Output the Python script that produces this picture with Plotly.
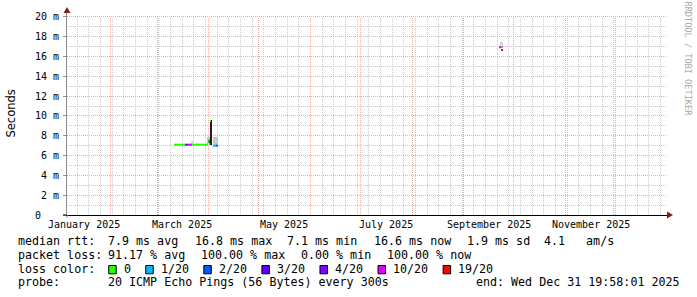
import plotly.graph_objects as go
import pandas as pd
import math

# ---------------- data ----------------
GRAPH_START = "2025-01-05 19:58:01"
GRAPH_END = "2025-12-31 19:58:01"

# median RTT segments (ms) with packet loss (pings lost out of 20)
seg_start = ["2025-03-11 00:00", "2025-03-17 14:00", "2025-03-19 10:00", "2025-03-21 19:00",
             "2025-03-31 10:00", "2025-04-01 02:00", "2025-04-01 14:00", "2025-04-03 06:00",
             "2025-04-05 05:00", "2025-09-22 00:45", "2025-09-23 05:30"]
seg_end = ["2025-03-17 14:00", "2025-03-19 10:00", "2025-03-21 19:00", "2025-03-31 10:00",
           "2025-04-01 02:00", "2025-04-01 14:00", "2025-04-02 05:00", "2025-04-05 05:00",
           "2025-04-06 10:00", "2025-09-23 05:30", "2025-09-24 10:00"]
seg_median_ms = [7.1, 7.1, 7.1, 7.1, 7.4, 7.6, 9.5, 7.0, 7.0, 16.95, 16.65]
seg_loss = [0, 4, 10, 0, 0, 0, 0, 1, 2, 10, 19]

# smoke (ping spread) bands
smoke_start = ["2025-03-21 05:00", "2025-03-24 05:00", "2025-03-31 10:00", "2025-03-31 20:00",
               "2025-04-01 14:00", "2025-04-03 06:00", "2025-09-22 14:00", "2025-09-22 14:00"]
smoke_end = ["2025-03-22 14:00", "2025-03-25 10:00", "2025-04-01 14:00", "2025-04-01 14:00",
             "2025-04-03 00:00", "2025-04-06 10:00", "2025-09-24 10:00", "2025-09-24 10:00"]
smoke_lo_ms = [7.1, 7.1, 7.1, 7.3, 7.1, 7.0, 16.9, 16.9]
smoke_hi_ms = [7.45, 7.3, 7.9, 7.6, 9.6, 7.9, 17.5, 17.1]
smoke_grey = ["#d8d8d8", "#e2e2e2", "#c4c4c4", "#3a3a3a", "#1e1e1e", "#cacaca", "#d6d6d6", "#a4a4a4"]

loss_levels = [0, 1, 2, 3, 4, 10, 19]
loss_labels = ["0", "1/20", "2/20", "3/20", "4/20", "10/20", "19/20"]
loss_colors = ["#26ff00", "#00b8ff", "#0059ff", "#5e00ff", "#7e00ff", "#dd00ff", "#ff0000"]

y_tick_ms = [0, 2, 4, 6, 8, 10, 12, 14, 16, 18, 20]
y_tick_text = ["0   ", "2 m", "4 m", "6 m", "8 m", "10 m", "12 m", "14 m", "16 m", "18 m", "20 m"]

x_label_dates = ["2025-01-16", "2025-03-16", "2025-05-16", "2025-07-16", "2025-09-16", "2025-11-16"]
x_label_text = ["January 2025", "March 2025", "May 2025", "July 2025", "September 2025", "November 2025"]

rtt_items = ["7.9 ms avg", "16.8 ms max", "7.1 ms min", "16.6 ms now", "1.9 ms sd", "4.1   am/s"]
pl_items = ["91.17 % avg", "100.00 % max", "0.00 % min", "100.00 % now"]
probe_text = "20 ICMP Echo Pings (56 Bytes) every 300s"
end_text = "end: Wed Dec 31 19:58:01 2025"

# ---------------- layout geometry ----------------
W, H = 697, 297
PL, PR, PT, PB = 67, 667, 12, 215
Y_MAX = 0.0205


def px(x):
    return (x - PL) / (PR - PL)


def py(y):
    return (PB - y) / (PB - PT)


def nb(s):
    return s.replace(" ", "\u00a0")


T0 = pd.Timestamp(GRAPH_START)
T1 = pd.Timestamp(GRAPH_END)


def snap_x(t):
    """pixel-centre (paper coords) of the column a time falls in"""
    xpix = PL + (pd.Timestamp(t) - T0) / (T1 - T0) * (PR - PL)
    return px(math.floor(xpix) + 0.5)


def snap_y(v):
    ypix = PB - v / Y_MAX * (PB - PT)
    return py(math.floor(ypix) + 0.5)


MONO = "DejaVu Sans Mono"
fig = go.Figure()

# smoke
for s, e, lo, hi, c in zip(smoke_start, smoke_end, smoke_lo_ms, smoke_hi_ms, smoke_grey):
    w = (pd.Timestamp(e) - pd.Timestamp(s)).total_seconds() * 1000
    fig.add_trace(go.Bar(x=[s], y=[(hi - lo) / 1000], base=[lo / 1000], width=[w], offset=0,
                         marker=dict(color=c, line=dict(width=0)), showlegend=False,
                         hoverinfo="skip"))

# median lines coloured by loss
for lvl, col in zip(loss_levels, loss_colors):
    xs, ys = [], []
    for s, e, m, l in zip(seg_start, seg_end, seg_median_ms, seg_loss):
        if l == lvl:
            xs += [s, e, None]
            ys += [m / 1000, m / 1000, None]
    if xs:
        fig.add_trace(go.Scatter(x=xs, y=ys, mode="lines", line=dict(color=col, width=2),
                                 showlegend=False, hoverinfo="skip"))

month_starts = pd.date_range("2025-02-01", "2025-12-01", freq="MS")
week_starts = pd.date_range("2025-01-12", "2025-12-28", freq="7D")

MAJ = "#e8aeae"
MIN = "#cbcbcb"
DASH = "1px,1px"

fig.update_layout(
    width=W, height=H,
    margin=dict(l=PL, r=W - PR, t=PT, b=H - PB, pad=0),
    paper_bgcolor="white", plot_bgcolor="white",
    barmode="overlay", bargap=0,
    showlegend=False,
    font=dict(family=MONO, size=10, color="black"),
    xaxis=dict(type="date", range=[GRAPH_START, GRAPH_END], showticklabels=False, ticks="",
               showgrid=False, showline=True, linecolor="black", linewidth=1, zeroline=False,
               fixedrange=True),
    yaxis=dict(range=[0, Y_MAX], tickmode="array", tickvals=[v / 1000 for v in y_tick_ms],
               ticktext=[nb(t) for t in y_tick_text], showgrid=False,
               ticks="outside", ticklen=3, tickcolor="#909090", tickwidth=1,
               tickfont=dict(family=MONO, size=10, color="black"), ticklabelstandoff=2,
               showline=True, linecolor="#8c8c8c", linewidth=1, zeroline=False),
)

shapes = []
TOPG = py(17)
# grid: weekly (minor) and monthly (major) verticals, 1 m (minor) / 2 m (major) horizontals
for d in week_starts:
    xx = snap_x(d)
    shapes.append(dict(type="line", xref="paper", yref="paper", x0=xx, x1=xx, y0=0, y1=TOPG,
                       line=dict(color=MIN, width=1, dash=DASH), layer="below"))
for v in range(1, 21, 2):
    yy = snap_y(v / 1000)
    shapes.append(dict(type="line", xref="paper", yref="paper", x0=0, x1=1, y0=yy, y1=yy,
                       line=dict(color=MIN, width=1, dash=DASH), layer="below"))
for d in month_starts:
    xx = snap_x(d)
    shapes.append(dict(type="line", xref="paper", yref="paper", x0=xx, x1=xx, y0=0, y1=TOPG,
                       line=dict(color=MAJ, width=1, dash=DASH), layer="below"))
for v in y_tick_ms[1:]:
    yy = snap_y(v / 1000)
    shapes.append(dict(type="line", xref="paper", yref="paper", x0=0, x1=1, y0=yy, y1=yy,
                       line=dict(color=MAJ, width=1, dash=DASH), layer="below"))

# small axis extensions
shapes.append(dict(type="line", xref="paper", yref="paper", x0=px(63), x1=px(67), y0=0, y1=0,
                   line=dict(color="black", width=1), layer="above"))
shapes.append(dict(type="line", xref="paper", yref="paper", x0=0, x1=0, y0=0, y1=py(218),
                   line=dict(color="#8c8c8c", width=1), layer="above"))

# arrows
shapes.append(dict(type="path", xref="paper", yref="paper",
                   path=f"M {px(63.5)},{py(13)} L {px(70.5)},{py(13)} L {px(67)},{py(7)} Z",
                   fillcolor="#7f1f1f", line=dict(width=0), layer="above"))
shapes.append(dict(type="path", xref="paper", yref="paper",
                   path=f"M {px(667)},{py(211.5)} L {px(667)},{py(218.5)} L {px(673)},{py(215)} Z",
                   fillcolor="#7f1f1f", line=dict(width=0), layer="above"))

ann = []
# x-axis month labels (placed through the x scale)
for d, t in zip(x_label_dates, x_label_text):
    ann.append(dict(text=nb(t), x=d, y=py(224.5), xref="x", yref="paper", showarrow=False,
                    font=dict(family=MONO, size=10, color="black"), xanchor="center",
                    yanchor="middle", borderpad=0))

ann.append(dict(text="Seconds", textangle=-90, x=px(10.5), y=py(114), xref="paper", yref="paper",
                showarrow=False, font=dict(family="DejaVu Sans", size=11.5, color="black"),
                xanchor="center", yanchor="middle"))
ann.append(dict(text=nb("RRDTOOL / TOBI OETIKER"), textangle=90, x=px(687.5), y=py(59),
                xref="paper", yref="paper", showarrow=False,
                font=dict(family=MONO, size=8.6, color="#acacac"), xanchor="center",
                yanchor="middle"))

LF = dict(family=MONO, size=11.66, color="black")
row_y = [241, 254.7, 268.5, 282.3]


def add_text(s, x, y, anchor="left"):
    ann.append(dict(text=nb(s), x=px(x), y=py(y), xref="paper", yref="paper", showarrow=False,
                    font=LF, xanchor=anchor, yanchor="middle", borderpad=0))


rtt_x = [107.3, 193.6, 286, 373, 465.7, 543]
pl_x = [107.3, 200, 300.4, 386]

add_text("median rtt:", 16.5, row_y[0])
for s, x in zip(rtt_items, rtt_x):
    add_text(s, x, row_y[0])
add_text("packet loss:", 16.5, row_y[1])
for s, x in zip(pl_items, pl_x):
    add_text(s, x, row_y[1])
add_text("loss color:", 16.5, row_y[2])
bx = 108.7
CW = 7.02
for lab, col in zip(loss_labels, loss_colors):
    shapes.append(dict(type="rect", xref="paper", yref="paper", x0=px(bx), x1=px(bx + 7.5),
                       y0=py(265.5), y1=py(273.8), fillcolor=col,
                       line=dict(color="black", width=1), layer="above"))
    add_text(lab, bx + 14.3, row_y[2])
    bx = bx + 14.3 + CW * len(lab) + 15.7
add_text("probe:", 16.5, row_y[3])
add_text(probe_text, 107.3, row_y[3])
add_text(end_text, 681, row_y[3], anchor="right")

fig.update_layout(shapes=shapes, annotations=ann)

fig.write_html("out.html", config={"displayModeBar": False})
